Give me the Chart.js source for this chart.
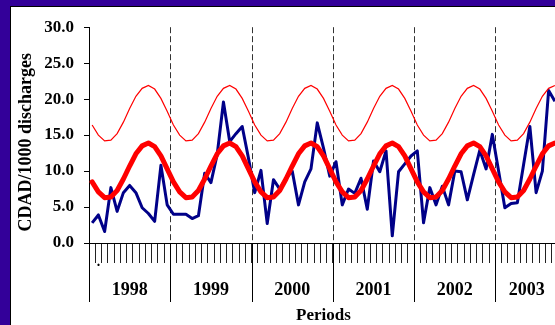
<!DOCTYPE html>
<html><head><meta charset="utf-8">
<script src="https://cdn.jsdelivr.net/npm/chart.js@4"></script>
<style>
html,body{margin:0;padding:0;overflow:hidden;background:#330099;width:555px;height:325px;}
#frame{position:absolute;left:10px;top:6px;width:560px;height:330px;background:#fff;border-left:1px solid #000;border-top:1px solid #000;}
#wrap{position:absolute;left:11px;top:7px;width:548px;height:318px;}
</style></head><body>
<div id="frame"></div>
<div id="wrap"><canvas id="c" width="548" height="318"></canvas></div>
<script>
const years = ['1998','1999','2000','2001','2002','2003'];
const periodsInYear = [13,13,13,13,13,10];
const yTicks = [0,5,10,15,20,25,30];
const yTitle = 'CDAD/1000 discharges';
const xTitle = 'Periods';

const observed = [
 2.8, 3.9, 1.6, 7.7, 4.4, 7.0, 8.0, 7.0, 4.9, 4.1, 3.0, 10.8, 5.3,
 4.0, 4.0, 4.0, 3.4, 3.8, 9.7, 8.4, 12.3, 19.6, 14.1, 15.2, 16.2, 11.8,
 7.0, 10.1, 2.7, 8.8, 7.5, 9.0, 10.0, 5.3, 8.5, 10.3, 16.7, 13.2, 9.3,
 11.3, 5.3, 7.5, 6.9, 9.0, 4.7, 11.4, 9.9, 12.8, 1.0, 9.9, 11.0, 12.1,
 12.8, 2.8, 7.7, 5.3, 7.9, 5.3, 10.0, 9.9, 6.0, 9.5, 12.9, 10.3, 15.1,
 10.0, 4.9, 5.5, 5.6, 10.9, 16.2, 7.0, 10.0, 21.2, 19.7
];
const expected = [
 8.5, 7.1, 6.3, 6.4, 7.3, 8.9, 10.7, 12.4, 13.5, 13.9, 13.4, 12.1, 10.3,
 8.5, 7.1, 6.3, 6.4, 7.3, 8.9, 10.7, 12.4, 13.5, 13.9, 13.4, 12.1, 10.3,
 8.5, 7.1, 6.3, 6.4, 7.3, 8.9, 10.7, 12.4, 13.5, 13.9, 13.4, 12.1, 10.3,
 8.5, 7.1, 6.3, 6.4, 7.3, 8.9, 10.7, 12.4, 13.5, 13.9, 13.4, 12.1, 10.3,
 8.5, 7.1, 6.3, 6.4, 7.3, 8.9, 10.7, 12.4, 13.5, 13.9, 13.4, 12.1, 10.3,
 8.5, 7.1, 6.3, 6.4, 7.3, 8.9, 10.7, 12.4, 13.5, 13.9
];
const upperLimit = [
 16.4, 15.0, 14.2, 14.3, 15.2, 16.8, 18.7, 20.4, 21.5, 21.9, 21.4, 20.1, 18.3,
 16.4, 15.0, 14.2, 14.3, 15.2, 16.8, 18.7, 20.4, 21.5, 21.9, 21.4, 20.1, 18.3,
 16.4, 15.0, 14.2, 14.3, 15.2, 16.8, 18.7, 20.4, 21.5, 21.9, 21.4, 20.1, 18.3,
 16.4, 15.0, 14.2, 14.3, 15.2, 16.8, 18.7, 20.4, 21.5, 21.9, 21.4, 20.1, 18.3,
 16.4, 15.0, 14.2, 14.3, 15.2, 16.8, 18.7, 20.4, 21.5, 21.9, 21.4, 20.1, 18.3,
 16.4, 15.0, 14.2, 14.3, 15.2, 16.8, 18.7, 20.4, 21.5, 21.9
];

const periodLabels = years.flatMap((y,i)=>Array.from({length:periodsInYear[i]},(_,p)=>y+' P'+(p+1)));
const yearStart = [];
periodsInYear.reduce((acc,n)=>{yearStart.push(acc);return acc+n;},0);

const FONT = "'Liberation Serif','Times New Roman',serif";
Chart.defaults.font.family = FONT;
Chart.defaults.color = '#000';

const yearAxis = {
  id:'yearAxis',
  beforeDatasetsDraw(chart){
    const {ctx, chartArea:a, scales:{x}} = chart;
    const half = x.width/periodLabels.length/2;
    ctx.save();
    ctx.strokeStyle='#333'; ctx.lineWidth=1; ctx.setLineDash([6,3]);
    yearStart.slice(1).forEach(s=>{
      const px = Math.round(x.getPixelForTick(s)-half)+0.5;
      ctx.beginPath(); ctx.moveTo(px,a.top); ctx.lineTo(px,a.bottom); ctx.stroke();
    });
    ctx.restore();
  },
  afterDraw(chart){
    const {ctx, chartArea:a, scales:{x,y}} = chart;
    const half = x.width/periodLabels.length/2;
    const endPx = x.getPixelForTick(periodLabels.length-1)+half;
    ctx.save();
    ctx.strokeStyle='#000'; ctx.lineWidth=1;
    const bounds = yearStart.map(s=>x.getPixelForTick(s)-half);
    bounds.forEach(b=>{
      const px = Math.round(b)+0.5;
      ctx.beginPath(); ctx.moveTo(px,a.bottom); ctx.lineTo(px,a.bottom+59); ctx.stroke();
    });
    ctx.fillStyle='#000';
    ctx.font = "bold 18px "+FONT;
    ctx.textAlign='center'; ctx.textBaseline='middle';
    years.forEach((yr,i)=>{
      const l = bounds[i], r = i<years.length-1 ? bounds[i+1] : endPx;
      ctx.fillText(yr,(l+r)/2,a.bottom+47);
    });
    ctx.font = "bold 14px "+FONT;
    ctx.fillText('.', x.getPixelForTick(1), a.bottom+19);
    // y axis title, centred slightly below the axis middle as in the reference
    ctx.font = "bold 18px "+FONT;
    ctx.translate(15, y.getPixelForValue(14.0));
    ctx.rotate(-Math.PI/2);
    ctx.fillText(yTitle, 0, 0);
    ctx.restore();
  }
};

new Chart(document.getElementById('c'), {
  type:'line',
  data:{
    labels: periodLabels,
    datasets:[
      {label:'Expected', data:expected, borderColor:'#ff0000', borderWidth:5, pointRadius:0, tension:0, borderJoinStyle:'round', borderCapStyle:'round'},
      {label:'Upper limit', data:upperLimit, borderColor:'#ff0000', borderWidth:1.2, pointRadius:0, tension:0},
      {label:'Observed', data:observed, borderColor:'#000088', borderWidth:3, pointRadius:0, tension:0, borderJoinStyle:'round'}
    ]
  },
  options:{
    responsive:false, animation:false,
    layout:{padding:{top:16,right:1,bottom:0,left:0}},
    plugins:{legend:{display:false}, tooltip:{enabled:false}},
    scales:{
      x:{
        type:'category', offset:true,
        grid:{display:true, drawOnChartArea:false, drawTicks:true, tickLength:20, color:'#222', offset:true},
        border:{display:true, color:'#000', width:1},
        ticks:{display:true, autoSkip:false, maxRotation:0, color:'rgba(0,0,0,0)', font:{size:2}, callback:()=>''},
        title:{display:true, text:xTitle, font:{size:17, weight:'bold', lineHeight:1.1}, padding:{top:0,bottom:0}},
        afterFit(s){ s.height = 82; }
      },
      y:{
        min:0, max:30,
        afterBuildTicks(s){ s.ticks = yTicks.map(v=>({value:v})); },
        grid:{display:true, drawOnChartArea:false, drawTicks:true, tickLength:5, color:'#000'},
        border:{display:true, color:'#000', width:1},
        ticks:{padding:10, font:{size:17, weight:'bold'}, callback:v=>Number(v).toFixed(1)},
        title:{display:false},
        afterFit(s){ s.width = 78; }
      }
    }
  },
  plugins:[yearAxis]
});
</script>
</body></html>
